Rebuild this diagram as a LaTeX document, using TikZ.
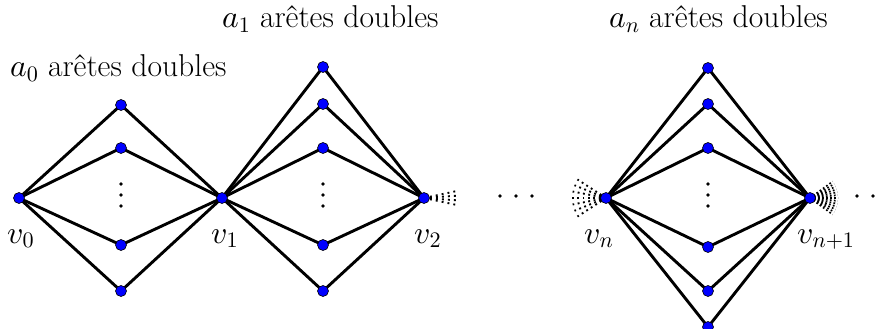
\documentclass[tikz,border=0pt]{standalone}
\DeclareFontShape{OML}{cmm}{m}{it}{<-6>cmmi5<6-8>cmmi7<8->cmmi10}{}
\DeclareFontShape{OT1}{cmr}{m}{n}{<-6>cmr5<6-8>cmr7<8->cmr10}{}
\DeclareFontShape{OMS}{cmsy}{m}{n}{<-6>cmsy5<6-8>cmsy7<8->cmsy10}{}
\DeclareMathSizes{31.6}{31.6}{22.12}{15.8}
\begin{document}
\begin{tikzpicture}[x=1pt,y=-1pt,
  vtx/.style={circle,fill=blue,draw=black,line width=0.6pt,inner sep=0pt,minimum size=11pt},
  edge/.style={line width=2.9pt,black},
  lab/.style={anchor=base west,inner sep=0pt,font=\fontsize{31.6}{38}\selectfont},
  dotdot/.style={fill=black},
  fanA/.style={line width=1.9pt,dash pattern=on 1.9pt off 4.1pt},
  fanB/.style={line width=1.9pt,dash pattern=on 1.9pt off 3.5pt},
  fanC/.style={line width=1.7pt,dash pattern=on 1.7pt off 2.3pt}]
\useasboundingbox (0,0) rectangle (883,329);
% hubs
\coordinate (v0) at (19,198);
\coordinate (v1) at (222,198);
\coordinate (v2) at (424,198);
\coordinate (vn) at (606,198);
\coordinate (vn1) at (810,198);
% group 0
\foreach \i/\y in {1/105,2/148,3/245,4/291}{
  \coordinate (g0\i) at (121,\y);
  \draw[edge] (v0) -- (g0\i) -- (v1);
}
% group 1
\foreach \i/\y in {1/67,2/104,3/148,4/245,5/291}{
  \coordinate (g1\i) at (323,\y);
  \draw[edge] (v1) -- (g1\i) -- (v2);
}
% group n
\foreach \i/\y in {1/68,2/104,3/148,4/247,5/291,6/327}{
  \coordinate (gn\i) at (708,\y);
  \draw[edge] (vn) -- (gn\i) -- (vn1);
}
% dotted fans
\foreach \a in {-12,-4,4,12}{
  \draw[fanA] (v2) -- ++(\a:33);
}
\foreach \a in {-33,-22,-11,0,11,22,33}{
  \draw[fanB] (vn) -- ++(180+\a:34);
}
\foreach \a in {-36,-30,...,36}{
  \draw[fanC] (vn1) -- ++(\a:28);
}
% vertices
\foreach \n in {v0,v1,v2,vn,vn1}{\node[vtx] (n\n) at (\n) {};}
\foreach \i in {1,...,4}{\node[vtx] (ng0\i) at (g0\i) {};}
\foreach \i in {1,...,5}{\node[vtx] (ng1\i) at (g1\i) {};}
\foreach \i in {1,...,6}{\node[vtx] (ngn\i) at (gn\i) {};}
% vertical dots
\foreach \x in {121,323,708}{
  \foreach \y in {184,195,206}{\fill[dotdot] (\x,\y) circle (1.9pt);}
}
% horizontal dots
\foreach \x in {500,516,532,857,873}{\fill[dotdot] (\x,196) circle (1.9pt);}
% labels
\node[lab] (la0) at (10,77) {$a_0$ arêtes doubles};
\node[lab] (la1) at (222,28) {$a_1$ arêtes doubles};
\node[lab] (lan) at (609,28) {$a_n$ arêtes doubles};
\node[lab] (lv0) at (7,243) {$v_0$};
\node[lab] (lv1) at (211,243) {$v_1$};
\node[lab] (lv2) at (414,243) {$v_2$};
\node[lab] (lvn) at (584,243) {$v_n$};
\node[lab] (lvn1) at (797,243) {$v_{n+1}$};
\end{tikzpicture}
\end{document}
